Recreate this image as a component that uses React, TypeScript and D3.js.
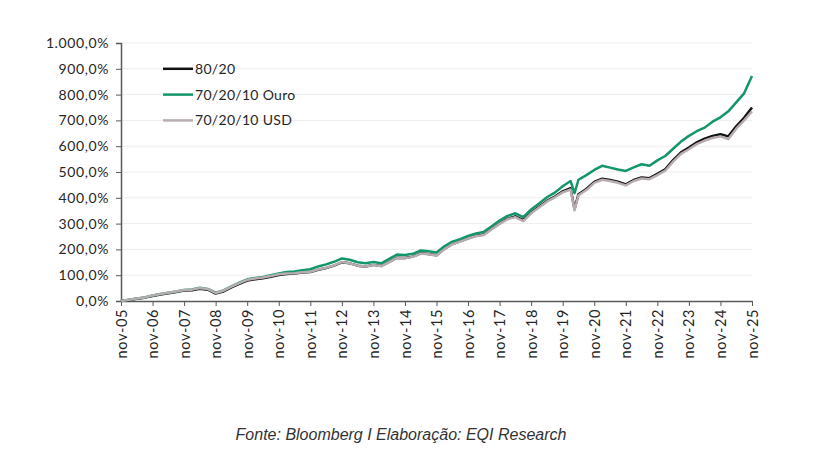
import React, { useEffect, useRef } from 'react';
import * as d3 from 'd3';

// months since nov-05 (quarterly, plus the march-2020 low)
const months = [
  0, 3, 6, 9, 12, 15, 18, 21, 24, 27, 30, 33, 36, 39, 42, 45, 48, 51, 54, 57,
  60, 63, 66, 69, 72, 75, 78, 81, 84, 87, 90, 93, 96, 99, 102, 105, 108, 111, 114, 117,
  120, 123, 126, 129, 132, 135, 138, 141, 144, 147, 150, 153, 156, 159, 162, 165, 168, 171, 172.5, 174,
  177, 180, 183, 186, 189, 192, 195, 198, 201, 204, 207, 210, 213, 216, 219, 222, 225, 228, 231, 234,
  237, 240,
];

const ouro = [
  0, 5, 10, 14, 21, 27, 32, 37, 43, 45, 51, 47, 32, 41, 57, 71, 84, 89, 93, 100,
  107, 112, 114, 119, 123, 134, 142, 152, 165, 160, 150, 146, 151, 146, 163, 180, 178, 183, 196, 193,
  188, 212, 230, 240, 252, 262, 268, 290, 312, 330, 340, 325, 355, 378, 402, 420, 445, 465, 418, 470,
  488, 508, 524, 517, 510, 504, 518, 530, 524, 545, 562, 590, 618, 640, 658, 672, 695, 712, 735, 770,
  805, 872,
];

const usd = [
  0, 5, 10, 14, 21, 27, 32, 37, 43, 44, 50, 46, 31, 40, 56, 69, 82, 87, 91, 97,
  104, 107, 108, 111, 113, 122, 129, 138, 151, 146, 137, 134, 140, 135, 151, 167, 166, 171, 184, 181,
  176, 201, 220, 230, 242, 251, 256, 278, 299, 317, 325, 310, 340, 362, 385, 402, 421, 432, 352, 410,
  430, 458, 470, 465, 458, 448, 465, 475, 472, 488, 505, 540, 570, 588, 608, 622, 632, 638, 628, 668,
  700, 735,
];

const base8020 = [
  0, 4, 9, 13, 19, 25, 30, 35, 41, 42, 47, 44, 29, 37, 53, 66, 79, 84, 88, 94,
  101, 105, 107, 110, 112, 121, 128, 137, 150, 146, 137, 134, 140, 136, 152, 168, 167, 172, 185, 182,
  177, 202, 221, 231, 243, 253, 258, 280, 301, 319, 328, 313, 343, 365, 388, 405, 425, 437, 356, 414,
  434, 462, 474, 469, 462, 452, 469, 479, 476, 493, 510, 546, 576, 595, 615, 629, 640, 646, 638, 677,
  710, 750,
];

const yTicks = [0, 100, 200, 300, 400, 500, 600, 700, 800, 900, 1000];
const xLabels = [
  'nov-05', 'nov-06', 'nov-07', 'nov-08', 'nov-09', 'nov-10', 'nov-11', 'nov-12', 'nov-13', 'nov-14',
  'nov-15', 'nov-16', 'nov-17', 'nov-18', 'nov-19', 'nov-20', 'nov-21', 'nov-22', 'nov-23', 'nov-24', 'nov-25',
];

const seriesNames = ['80/20', '70/20/10 Ouro', '70/20/10 USD'];
const seriesColors = ['#111111', '#13966a', '#b8adae'];

const width = 820;
const height = 456;
const margin = { top: 43, right: 68, bottom: 155, left: 121 };
const font = 'Lato, "Open Sans", sans-serif';

const fmt = (v: number) => d3.format(',.1f')(v).replace(/,/g, '#').replace('.', ',').replace(/#/g, '.') + '%';

export default function App() {
  const svgRef = useRef<SVGSVGElement>(null);

  useEffect(() => {
    if (!svgRef.current) return;
    const svg = d3.select(svgRef.current);
    svg.selectAll('*').remove();

    const x = d3.scaleLinear().domain([0, 240]).range([margin.left, width - margin.right]);
    const y = d3.scaleLinear().domain([0, 1000]).range([height - margin.bottom, margin.top]);

    // gridlines
    svg.append('g')
      .selectAll('line')
      .data(yTicks.slice(1))
      .join('line')
      .attr('x1', margin.left)
      .attr('x2', width - margin.right)
      .attr('y1', d => y(d))
      .attr('y2', d => y(d))
      .attr('stroke', '#ededed')
      .attr('stroke-width', 1);

    // y axis
    const yAxis = svg.append('g')
      .attr('transform', `translate(${margin.left},0)`)
      .call(d3.axisLeft(y).tickValues(yTicks).tickFormat(d => fmt(d as number)).tickSize(5).tickPadding(7));
    yAxis.select('.domain').attr('stroke', '#595959').attr('stroke-width', 1.5);
    yAxis.selectAll('.tick line').attr('stroke', '#595959');
    yAxis.selectAll('text')
      .attr('font-family', font)
      .attr('font-size', 14)
      .attr('letter-spacing', 0.6)
      .attr('fill', '#262626');

    // x axis
    const xAxis = svg.append('g')
      .attr('transform', `translate(0,${height - margin.bottom})`)
      .call(d3.axisBottom(x).tickValues(d3.range(0, 241, 12)).tickFormat((_, i) => xLabels[i]).tickSize(5).tickSizeOuter(0));
    xAxis.select('.domain').attr('stroke', '#595959').attr('stroke-width', 1.5);
    xAxis.selectAll('.tick line').attr('stroke', '#595959');
    xAxis.selectAll('text')
      .attr('font-family', font)
      .attr('font-size', 14.5)
      .attr('letter-spacing', 0.6)
      .attr('fill', '#262626')
      .attr('transform', 'rotate(-90)')
      .attr('text-anchor', 'end')
      .attr('x', -8)
      .attr('y', 0)
      .attr('dy', '0.35em');

    // lines
    const data = [base8020, ouro, usd];
    const line = d3.line<number>()
      .x((_, i) => x(months[i]))
      .y(d => y(d));
    data.forEach((vals, k) => {
      svg.append('path')
        .datum(vals)
        .attr('d', line)
        .attr('fill', 'none')
        .attr('stroke', seriesColors[k])
        .attr('stroke-width', 2.5)
        .attr('stroke-linejoin', 'round');
    });

    // legend
    const leg = svg.append('g');
    seriesNames.forEach((name, k) => {
      const ly = y(900 - k * 100);
      leg.append('line')
        .attr('x1', 163).attr('x2', 193)
        .attr('y1', ly).attr('y2', ly)
        .attr('stroke', seriesColors[k])
        .attr('stroke-width', 2.5);
      leg.append('text')
        .attr('x', 195)
        .attr('y', ly)
        .attr('dy', '0.35em')
        .attr('font-family', font)
        .attr('font-size', 14)
        .attr('letter-spacing', 0.3)
        .attr('fill', '#262626')
        .text(name);
    });

    // source
    svg.append('text')
      .attr('x', 401)
      .attr('y', 440)
      .attr('text-anchor', 'middle')
      .attr('font-family', '"Liberation Sans", Arial, sans-serif')
      .attr('font-style', 'italic')
      .attr('font-size', 16)
      .attr('fill', '#333333')
      .text('Fonte: Bloomberg I Elaboração: EQI Research');
  }, []);

  return (
    <svg
      ref={svgRef}
      width={width}
      height={height}
      style={{ position: 'absolute', left: 0, top: 0, background: '#ffffff' }}
    />
  );
}
